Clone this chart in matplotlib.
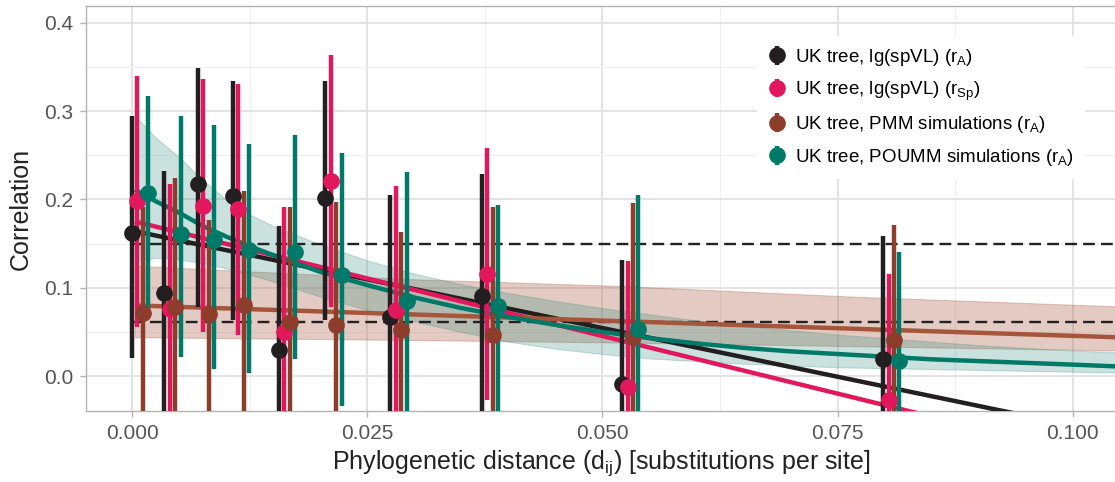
import numpy as np
import matplotlib.pyplot as plt
from matplotlib.ticker import MultipleLocator

plt.rcParams['font.family'] = ['Liberation Sans', 'DejaVu Sans']

# distance bins (centre of each dodged group)
bins = np.array([0.00086, 0.0043, 0.00784, 0.01156, 0.01646, 0.02142,
                 0.02831, 0.03805, 0.05295, 0.08071])

# UK tree, lg(spVL), r_A
black_y = [0.162, 0.094, 0.218, 0.204, 0.030, 0.202, 0.067, 0.091, -0.009, 0.019]
black_lo = [0.021, -0.044, 0.078, 0.063, -0.110, 0.063, -0.071, -0.047, -0.150, -0.121]
black_hi = [0.295, 0.232, 0.349, 0.334, 0.170, 0.334, 0.205, 0.229, 0.132, 0.159]

# UK tree, lg(spVL), r_Sp
pink_y = [0.198, 0.076, 0.193, 0.189, 0.050, 0.221, 0.075, 0.116, -0.012, -0.027]
pink_lo = [0.056, -0.066, 0.050, 0.046, -0.092, 0.078, -0.067, -0.027, -0.154, -0.169]
pink_hi = [0.340, 0.217, 0.336, 0.331, 0.192, 0.363, 0.215, 0.258, 0.130, 0.116]

# PMM simulations, r_A
brown_y = [0.071, 0.078, 0.070, 0.081, 0.061, 0.058, 0.052, 0.047, 0.044, 0.041]
brown_lo = [-0.08, -0.08, -0.08, -0.08, -0.08, -0.08, -0.08, -0.08, -0.08, -0.08]
brown_hi = [0.192, 0.224, 0.177, 0.210, 0.192, 0.197, 0.163, 0.191, 0.196, 0.171]

# POUMM simulations, r_A
teal_y = [0.207, 0.161, 0.154, 0.143, 0.140, 0.114, 0.085, 0.079, 0.053, 0.017]
teal_lo = [0.072, 0.022, 0.008, 0.003, 0.019, -0.034, -0.060, -0.066, -0.090, -0.120]
teal_hi = [0.317, 0.294, 0.284, 0.263, 0.273, 0.252, 0.231, 0.194, 0.205, 0.140]

# fitted trends
black_fit_x = [0.0003, 0.1046]
black_fit_y = [0.164, -0.066]
pink_fit_x = [0.0003, 0.1046]
pink_fit_y = [0.175, -0.097]
brown_fit_x = [0.0003, 0.1046]
brown_fit_y = [0.080, 0.044]
brown_band_x = [0.0003, 0.0289, 0.052, 0.0765, 0.1046]
brown_band_hi = [0.125, 0.110, 0.102, 0.090, 0.079]
brown_band_lo = [0.044, 0.041, 0.038, 0.034, 0.029]

teal_fit_x = [0.0003, 0.0025, 0.005, 0.0075, 0.01, 0.0125, 0.015, 0.02, 0.025,
              0.03, 0.035, 0.04, 0.045, 0.05, 0.055, 0.06, 0.065, 0.07, 0.075,
              0.08, 0.085, 0.09, 0.095, 0.1, 0.1046]
teal_fit_y = [0.211, 0.198, 0.185, 0.170, 0.158, 0.147, 0.137, 0.118, 0.103,
              0.089, 0.077, 0.067, 0.058, 0.050, 0.043, 0.037, 0.032, 0.028, 0.025,
              0.022, 0.019, 0.017, 0.015, 0.013, 0.011]
teal_band_hi = [0.295, 0.270, 0.248, 0.222, 0.200, 0.183, 0.170, 0.149, 0.131,
                0.116, 0.104, 0.094, 0.085, 0.077, 0.070, 0.063, 0.057, 0.052, 0.047,
                0.043, 0.039, 0.035, 0.032, 0.029, 0.027]
teal_band_lo = [0.130, 0.134, 0.132, 0.128, 0.122, 0.115, 0.107, 0.090, 0.075,
                0.062, 0.050, 0.039, 0.031, 0.025, 0.020, 0.017, 0.014, 0.012, 0.010,
                0.009, 0.008, 0.007, 0.006, 0.005, 0.004]

ref_levels = [0.15, 0.061]

labels = [r'UK tree, lg(spVL) ($\mathregular{r_A}$)',
          r'UK tree, lg(spVL) ($\mathregular{r_{Sp}}$)',
          r'UK tree, PMM simulations ($\mathregular{r_A}$)',
          r'UK tree, POUMM simulations ($\mathregular{r_A}$)']
colors = ['#231f20', '#e3175b', '#8e3d2c', '#007a68']
line_colors = ['#231f20', '#e3175b', '#a4553a', '#007a68']

fig = plt.figure(figsize=(11.15, 4.82), dpi=100)
ax = fig.add_axes([0.0771, 0.1473, 0.9239, 0.8403])

ax.fill_between(brown_band_x, brown_band_lo, brown_band_hi, color='#a4553a',
                alpha=0.3, lw=0.8, zorder=1)
ax.fill_between(teal_fit_x, teal_band_lo, teal_band_hi, color='#2f8a7c',
                alpha=0.25, lw=0.8, zorder=1)

ax.hlines(ref_levels, 0.0, 0.1046, colors='#222222', linestyles=(0, (5, 2.6)),
          lw=1.7, zorder=2)

fits = [(black_fit_x, black_fit_y), (pink_fit_x, pink_fit_y),
        (brown_fit_x, brown_fit_y), (teal_fit_x, teal_fit_y)]
for (fx, fy), c in zip(fits, line_colors):
    ax.plot(fx, fy, color=c, lw=3.2, solid_capstyle='butt', zorder=3)

series = [(black_y, black_lo, black_hi), (pink_y, pink_lo, pink_hi),
          (brown_y, brown_lo, brown_hi), (teal_y, teal_lo, teal_hi)]
step = 0.000575
for i, ((y, lo, hi), c, lab) in enumerate(zip(series, colors, labels)):
    y = np.array(y)
    x = bins + (i - 1.5) * step
    yerr = [y - np.array(lo), np.array(hi) - y]
    ax.errorbar(x, y, yerr=yerr, fmt='o', color=c, ms=11, elinewidth=3.2,
                capsize=0, label=lab, zorder=4)

ax.set_xlim(-0.0049, 0.1046)
ax.set_ylim(-0.0395, 0.419)
ax.xaxis.set_major_locator(MultipleLocator(0.025))
ax.xaxis.set_minor_locator(MultipleLocator(0.0125))
ax.yaxis.set_major_locator(MultipleLocator(0.1))
ax.yaxis.set_minor_locator(MultipleLocator(0.05))
ax.xaxis.set_major_formatter(plt.FuncFormatter(lambda v, p: f'{v:.3f}'))
ax.yaxis.set_major_formatter(plt.FuncFormatter(lambda v, p: f'{v:.1f}'))

ax.grid(which='major', color='#e1e1e1', lw=1.3, zorder=0)
ax.grid(which='minor', color='#efefef', lw=0.8, zorder=0)
ax.set_axisbelow(True)
for s in ax.spines.values():
    s.set_color('#b3b3b3')
    s.set_linewidth(1.0)
ax.spines['right'].set_visible(False)
ax.tick_params(which='major', length=4, width=1, color='#b3b3b3',
               labelsize=15, labelcolor='#555555', pad=5)
ax.tick_params(which='minor', length=0)

ax.set_xlabel(r'Phylogenetic distance ($\mathregular{d_{ij}}$) [substitutions per site]',
              fontsize=18, color='#222222', labelpad=4)
ax.set_ylabel('Correlation', fontsize=18, color='#222222', labelpad=8)

leg = ax.legend(loc='upper left', bbox_to_anchor=(0.642, 0.95), fontsize=13.5,
                frameon=True, facecolor='white', edgecolor='none', framealpha=1,
                handlelength=1.0, handletextpad=0.45, labelspacing=0.62,
                borderpad=0.6)
leg.set_zorder(6)

fig.savefig('out.png', dpi=100)
